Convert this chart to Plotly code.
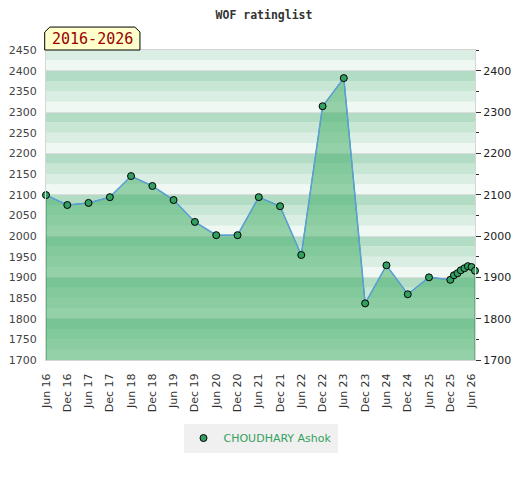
import plotly.graph_objects as go

# rating list snapshots (half-yearly, then monthly at the end)
dates = ['2016-06', '2016-12', '2017-06', '2017-12', '2018-06', '2018-12',
         '2019-06', '2019-12', '2020-06', '2020-12', '2021-06', '2021-12',
         '2022-06', '2022-12', '2023-06', '2023-12', '2024-06', '2024-12',
         '2025-06', '2025-12', '2026-01', '2026-02', '2026-03', '2026-04',
         '2026-05', '2026-06', '2026-07']
ratings = [2099, 2075, 2080, 2094, 2145, 2121, 2087, 2034, 2002, 2002,
           2094, 2072, 1954, 2314, 2382, 1837, 1929, 1859, 1900, 1894,
           1905, 1910, 1917, 1922, 1927, 1925, 1916]

tick_dates = ['2016-06', '2016-12', '2017-06', '2017-12', '2018-06', '2018-12',
              '2019-06', '2019-12', '2020-06', '2020-12', '2021-06', '2021-12',
              '2022-06', '2022-12', '2023-06', '2023-12', '2024-06', '2024-12',
              '2025-06', '2025-12', '2026-06']
tick_labels = ['Jun 16', 'Dec 16', 'Jun 17', 'Dec 17', 'Jun 18', 'Dec 18',
               'Jun 19', 'Dec 19', 'Jun 20', 'Dec 20', 'Jun 21', 'Dec 21',
               'Jun 22', 'Dec 22', 'Jun 23', 'Dec 23', 'Jun 24', 'Dec 24',
               'Jun 25', 'Dec 25', 'Jun 26']

player = 'CHOUDHARY Ashok'
period = '2016-2026'
Y_MIN, Y_MAX = 1700, 2450

stripe_colors = ['#eff8f3', '#dbeee3', '#c7e6d4', '#b3dcc5']  # lightest -> darkest inside each 100

fig = go.Figure()

# filled area below the rating curve
fig.add_trace(go.Scatter(
    x=[dates[0]] + dates + [dates[-1]],
    y=[Y_MIN] + ratings + [Y_MIN],
    fill='toself',
    fillcolor='rgba(72,176,108,0.55)',
    mode='lines',
    line=dict(color='#3a9a5a', width=1),
    hoverinfo='skip',
    showlegend=False,
))

fig.add_trace(go.Scatter(
    x=dates, y=ratings, mode='lines',
    line=dict(color='#5a9fd8', width=1.5),
    showlegend=False,
))

fig.add_trace(go.Scatter(
    x=dates, y=ratings, mode='markers', name=player,
    marker=dict(size=7, color='#33a062', line=dict(color='#000000', width=1)),
    cliponaxis=False,
    yaxis='y2',
))

# striped background, 25 points per stripe
shapes = []
for v in range(Y_MIN, Y_MAX, 25):
    shapes.append(dict(
        type='rect', xref='paper', yref='y', x0=0, x1=1, y0=v, y1=v + 25,
        fillcolor=stripe_colors[(v % 100) // 25], line=dict(width=0), layer='below',
    ))

# year tag with cut top corners
shapes.append(dict(
    type='path', xref='paper', yref='paper', layer='above',
    path='M -0.003 1.0 L -0.003 1.058 L 0.009 1.074 L 0.207 1.074 L 0.219 1.058 L 0.219 1.0 Z',
    fillcolor='#ffffcc', line=dict(color='#000000', width=1),
))

# page body adds 8px, so the figure is 8px smaller than the window
fig.update_layout(
    width=512, height=472,
    margin=dict(l=38, r=45, t=42, b=120, autoexpand=False),
    paper_bgcolor='white',
    plot_bgcolor='white',
    font=dict(family='DejaVu Sans', size=11, color='#333333'),
    title=dict(text='<b>WOF ratinglist</b>', x=0.5, xanchor='center', y=0.985, yanchor='middle',
               font=dict(family='DejaVu Sans Mono', size=11.5, color='#333333')),
    shapes=shapes,
    showlegend=True,
    legend=dict(orientation='h', x=0.5, xanchor='center', y=-0.205, yanchor='top',
                bgcolor='#f0f0f0', font=dict(size=11, color='#33a060')),
    annotations=[dict(
        text=period, xref='paper', yref='paper', x=0.108, y=1.037,
        xanchor='center', yanchor='middle', showarrow=False,
        font=dict(family='DejaVu Sans Mono', size=15, color='#990000'),
    )],
    hovermode='closest',
)

fig.update_xaxes(
    type='date', range=['2016-06-01', '2026-07-01'], automargin=False,
    tickvals=tick_dates, ticktext=tick_labels, tickangle=-90,
    ticks='outside', ticklen=8, tickcolor='rgba(0,0,0,0)',
    tickfont=dict(size=11, color='#333333'),
    showgrid=False, zeroline=False,
    showline=True, linecolor='#d6d6d6', mirror=True,
)

fig.update_layout(
    yaxis=dict(
        range=[Y_MIN, Y_MAX], dtick=50, showgrid=False, zeroline=False, automargin=False,
        ticks='outside', ticklen=6, tickcolor='rgba(0,0,0,0)',
        tickfont=dict(size=11, color='#444444'),
        showline=True, linecolor='#d6d6d6', mirror=True,
    ),
    yaxis2=dict(
        overlaying='y', side='right', range=[Y_MIN, Y_MAX], dtick=100, automargin=False,
        showgrid=True, gridcolor='#dcdcdc', gridwidth=1, zeroline=False,
        ticks='outside', ticklen=5, tickcolor='#333333',
        minor=dict(dtick=50, ticks='outside', ticklen=3, tickcolor='#333333', showgrid=False),
        tickfont=dict(size=11, color='#222222'),
        tickvals=[1700, 1800, 1900, 2000, 2100, 2200, 2300, 2400],
    ),
)

fig.write_html('out.html')
